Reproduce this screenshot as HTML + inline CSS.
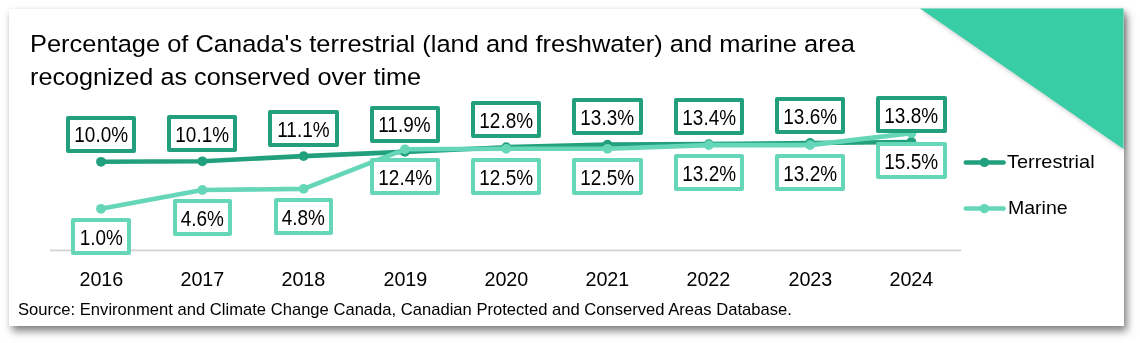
<!DOCTYPE html>
<html><head><meta charset="utf-8"><style>
html,body{margin:0;padding:0;background:#fff;width:1140px;height:343px;overflow:hidden;font-family:"Liberation Sans", sans-serif;}
.card{position:absolute;left:9px;top:9px;width:1114.5px;height:317px;background:#fff;box-shadow:3px 5px 8px rgba(0,0,0,0.5), 0 0 2px rgba(0,0,0,0.04);}
svg{position:absolute;left:0;top:0;}
.tx{position:absolute;white-space:nowrap;color:#000;transform-origin:0 0;line-height:1;}
.lb{position:absolute;height:29px;border:4px solid;border-radius:2px;background:#fff;color:#000;white-space:nowrap;text-align:center;box-sizing:content-box;font-size:21.3px;line-height:29px;}
.lb span,.yr span{display:inline-block;transform-origin:50% 50%;position:relative;}
.lb span{top:1.8px;}
.lb.t{border-color:#22a07e;}
.lb.m{border-color:#66d6b9;}
.yr{position:absolute;top:268px;width:100px;text-align:center;font-size:21px;line-height:1;color:#000;}
</style></head><body>
<div class="card"></div>
<svg width="1140" height="343"><polygon points="920,8.5 1123.5,8.5 1123.5,149" fill="#39cda6" style="filter:drop-shadow(1px 2px 2px rgba(0,0,0,0.2))"/></svg>
<div class="tx" style="font-size:24.3px;transform:scaleX(1.047);left:29.5px;top:32.2px;">Percentage of Canada's terrestrial (land and freshwater) and marine area</div>
<div class="tx" style="font-size:24.3px;transform:scaleX(1.038);left:29.5px;top:65.2px;">recognized as conserved over time</div>
<svg width="1140" height="343"><line x1="50" y1="250.4" x2="961.3" y2="250.4" stroke="#d2d2d2" stroke-width="1.7"/><polyline points="101.0,161.8 202.3,161.3 303.6,156.1 404.9,151.9 506.2,147.2 607.5,144.6 708.8,144.1 810.1,143.0 911.4,142.0" fill="none" stroke="#22a07e" stroke-width="4.6" stroke-linejoin="round"/><circle cx="101.0" cy="161.8" r="4.9" fill="#22a07e"/><circle cx="202.3" cy="161.3" r="4.9" fill="#22a07e"/><circle cx="303.6" cy="156.1" r="4.9" fill="#22a07e"/><circle cx="404.9" cy="151.9" r="4.9" fill="#22a07e"/><circle cx="506.2" cy="147.2" r="4.9" fill="#22a07e"/><circle cx="607.5" cy="144.6" r="4.9" fill="#22a07e"/><circle cx="708.8" cy="144.1" r="4.9" fill="#22a07e"/><circle cx="810.1" cy="143.0" r="4.9" fill="#22a07e"/><circle cx="911.4" cy="142.0" r="4.9" fill="#22a07e"/><polyline points="101.0,208.8 202.3,190.0 303.6,188.9 404.9,149.3 506.2,148.8 607.5,148.8 708.8,145.1 810.1,145.1 911.4,133.1" fill="none" stroke="#66d6b9" stroke-width="4.6" stroke-linejoin="round"/><circle cx="101.0" cy="208.8" r="4.9" fill="#66d6b9"/><circle cx="202.3" cy="190.0" r="4.9" fill="#66d6b9"/><circle cx="303.6" cy="188.9" r="4.9" fill="#66d6b9"/><circle cx="404.9" cy="149.3" r="4.9" fill="#66d6b9"/><circle cx="506.2" cy="148.8" r="4.9" fill="#66d6b9"/><circle cx="607.5" cy="148.8" r="4.9" fill="#66d6b9"/><circle cx="708.8" cy="145.1" r="4.9" fill="#66d6b9"/><circle cx="810.1" cy="145.1" r="4.9" fill="#66d6b9"/><circle cx="911.4" cy="133.1" r="4.9" fill="#66d6b9"/><line x1="965.8" y1="162.4" x2="1003.6" y2="162.4" stroke="#22a07e" stroke-width="4.5" stroke-linecap="round"/><circle cx="984.4" cy="162.4" r="4.7" fill="#22a07e"/><line x1="965.8" y1="208.6" x2="1003.6" y2="208.6" stroke="#66d6b9" stroke-width="4.5" stroke-linecap="round"/><circle cx="984.4" cy="208.6" r="4.7" fill="#66d6b9"/></svg>
<div class="lb t" style="left:65.85px;top:115.60px;width:62.30px"><span style="transform:scaleX(0.89)">10.0%</span></div><div class="lb m" style="left:71.25px;top:217.88px;width:51.50px"><span style="transform:scaleX(0.89)">1.0%</span></div><div class="lb t" style="left:167.15px;top:115.08px;width:62.30px"><span style="transform:scaleX(0.89)">10.1%</span></div><div class="lb m" style="left:172.55px;top:199.09px;width:51.50px"><span style="transform:scaleX(0.89)">4.6%</span></div><div class="lb t" style="left:268.45px;top:109.86px;width:62.30px"><span style="transform:scaleX(0.89)">11.1%</span></div><div class="lb m" style="left:273.85px;top:198.04px;width:51.50px"><span style="transform:scaleX(0.89)">4.8%</span></div><div class="lb t" style="left:369.75px;top:105.68px;width:62.30px"><span style="transform:scaleX(0.89)">11.9%</span></div><div class="lb m" style="left:369.75px;top:158.37px;width:62.30px"><span style="transform:scaleX(0.89)">12.4%</span></div><div class="lb t" style="left:471.05px;top:100.98px;width:62.30px"><span style="transform:scaleX(0.89)">12.8%</span></div><div class="lb m" style="left:471.05px;top:157.85px;width:62.30px"><span style="transform:scaleX(0.89)">12.5%</span></div><div class="lb t" style="left:572.35px;top:98.37px;width:62.30px"><span style="transform:scaleX(0.89)">13.3%</span></div><div class="lb m" style="left:572.35px;top:157.85px;width:62.30px"><span style="transform:scaleX(0.89)">12.5%</span></div><div class="lb t" style="left:673.65px;top:97.85px;width:62.30px"><span style="transform:scaleX(0.89)">13.4%</span></div><div class="lb m" style="left:673.65px;top:154.20px;width:62.30px"><span style="transform:scaleX(0.89)">13.2%</span></div><div class="lb t" style="left:774.95px;top:96.81px;width:62.30px"><span style="transform:scaleX(0.89)">13.6%</span></div><div class="lb m" style="left:774.95px;top:154.20px;width:62.30px"><span style="transform:scaleX(0.89)">13.2%</span></div><div class="lb t" style="left:876.25px;top:95.76px;width:62.30px"><span style="transform:scaleX(0.89)">13.8%</span></div><div class="lb m" style="left:876.25px;top:142.19px;width:62.30px"><span style="transform:scaleX(0.89)">15.5%</span></div>
<div class="yr" style="left:51.0px"><span style="transform:scaleX(0.94)">2016</span></div><div class="yr" style="left:152.3px"><span style="transform:scaleX(0.94)">2017</span></div><div class="yr" style="left:253.6px"><span style="transform:scaleX(0.94)">2018</span></div><div class="yr" style="left:354.9px"><span style="transform:scaleX(0.94)">2019</span></div><div class="yr" style="left:456.2px"><span style="transform:scaleX(0.94)">2020</span></div><div class="yr" style="left:557.5px"><span style="transform:scaleX(0.94)">2021</span></div><div class="yr" style="left:658.8px"><span style="transform:scaleX(0.94)">2022</span></div><div class="yr" style="left:760.1px"><span style="transform:scaleX(0.94)">2023</span></div><div class="yr" style="left:861.4px"><span style="transform:scaleX(0.94)">2024</span></div>
<div class="tx" style="font-size:19px;transform:scaleX(1.05);left:1007.1px;top:151.6px;">Terrestrial</div>
<div class="tx" style="font-size:19px;transform:scaleX(1.027);left:1007.9px;top:197.8px;">Marine</div>
<div class="tx" style="font-size:17px;transform:scaleX(0.976);left:18px;top:300.7px;">Source: Environment and Climate Change Canada, Canadian Protected and Conserved Areas Database.</div>
</body></html>
